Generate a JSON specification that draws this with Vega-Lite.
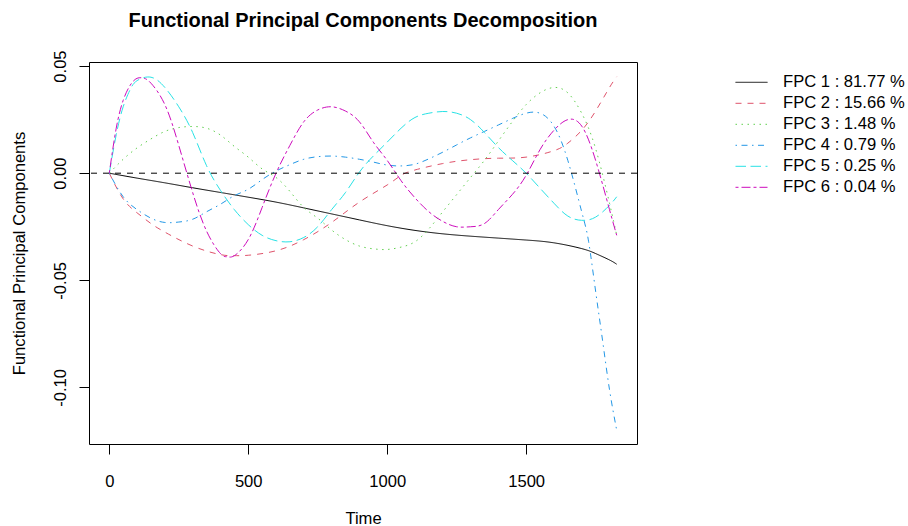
{
  "$schema": "https://vega.github.io/schema/vega-lite/v6.json",
  "autosize": {"type": "none"},
  "width": 548,
  "height": 382,
  "padding": {"left": 89, "top": 62, "right": 271, "bottom": 82},
  "background": "white",
  "title": {"text": "Functional Principal Components Decomposition", "font": "Liberation Sans", "fontSize": 20, "fontWeight": "bold", "color": "black", "anchor": "middle", "baseline": "alphabetic", "offset": 3},
  "config": {
    "view": {"stroke": "black", "strokeWidth": 1},
    "axis": {"labelFont": "Liberation Sans", "titleFont": "Liberation Sans", "labelFontSize": 16.6, "titleFontSize": 16.6, "labelColor": "black", "titleColor": "black", "titleFontWeight": "normal", "tickColor": "black", "tickSize": 10, "tickWidth": 1, "domain": false, "grid": false}
  },
  "datasets": {
    "fpc": [
      {"t": 0, "v": 0, "s": "FPC 1 : 81.77 %"},
      {"t": 100, "v": -0.0023, "s": "FPC 1 : 81.77 %"},
      {"t": 200, "v": -0.0045, "s": "FPC 1 : 81.77 %"},
      {"t": 300, "v": -0.0068, "s": "FPC 1 : 81.77 %"},
      {"t": 400, "v": -0.009, "s": "FPC 1 : 81.77 %"},
      {"t": 500, "v": -0.0112, "s": "FPC 1 : 81.77 %"},
      {"t": 600, "v": -0.0135, "s": "FPC 1 : 81.77 %"},
      {"t": 700, "v": -0.0162, "s": "FPC 1 : 81.77 %"},
      {"t": 800, "v": -0.019, "s": "FPC 1 : 81.77 %"},
      {"t": 900, "v": -0.0218, "s": "FPC 1 : 81.77 %"},
      {"t": 1000, "v": -0.0245, "s": "FPC 1 : 81.77 %"},
      {"t": 1100, "v": -0.0267, "s": "FPC 1 : 81.77 %"},
      {"t": 1200, "v": -0.0283, "s": "FPC 1 : 81.77 %"},
      {"t": 1300, "v": -0.0294, "s": "FPC 1 : 81.77 %"},
      {"t": 1400, "v": -0.0303, "s": "FPC 1 : 81.77 %"},
      {"t": 1500, "v": -0.0312, "s": "FPC 1 : 81.77 %"},
      {"t": 1600, "v": -0.0325, "s": "FPC 1 : 81.77 %"},
      {"t": 1700, "v": -0.0352, "s": "FPC 1 : 81.77 %"},
      {"t": 1750, "v": -0.0375, "s": "FPC 1 : 81.77 %"},
      {"t": 1800, "v": -0.0405, "s": "FPC 1 : 81.77 %"},
      {"t": 1826, "v": -0.0425, "s": "FPC 1 : 81.77 %"},

      {"t": 0, "v": 0, "s": "FPC 2 : 15.66 %"},
      {"t": 50, "v": -0.012, "s": "FPC 2 : 15.66 %"},
      {"t": 100, "v": -0.0185, "s": "FPC 2 : 15.66 %"},
      {"t": 150, "v": -0.0235, "s": "FPC 2 : 15.66 %"},
      {"t": 200, "v": -0.0275, "s": "FPC 2 : 15.66 %"},
      {"t": 300, "v": -0.034, "s": "FPC 2 : 15.66 %"},
      {"t": 400, "v": -0.038, "s": "FPC 2 : 15.66 %"},
      {"t": 450, "v": -0.0385, "s": "FPC 2 : 15.66 %"},
      {"t": 500, "v": -0.0383, "s": "FPC 2 : 15.66 %"},
      {"t": 600, "v": -0.0362, "s": "FPC 2 : 15.66 %"},
      {"t": 700, "v": -0.031, "s": "FPC 2 : 15.66 %"},
      {"t": 800, "v": -0.023, "s": "FPC 2 : 15.66 %"},
      {"t": 900, "v": -0.0135, "s": "FPC 2 : 15.66 %"},
      {"t": 1000, "v": -0.0055, "s": "FPC 2 : 15.66 %"},
      {"t": 1050, "v": -0.001, "s": "FPC 2 : 15.66 %"},
      {"t": 1100, "v": 0.0015, "s": "FPC 2 : 15.66 %"},
      {"t": 1200, "v": 0.0045, "s": "FPC 2 : 15.66 %"},
      {"t": 1300, "v": 0.0063, "s": "FPC 2 : 15.66 %"},
      {"t": 1400, "v": 0.007, "s": "FPC 2 : 15.66 %"},
      {"t": 1500, "v": 0.0075, "s": "FPC 2 : 15.66 %"},
      {"t": 1600, "v": 0.0105, "s": "FPC 2 : 15.66 %"},
      {"t": 1650, "v": 0.014, "s": "FPC 2 : 15.66 %"},
      {"t": 1700, "v": 0.02, "s": "FPC 2 : 15.66 %"},
      {"t": 1750, "v": 0.029, "s": "FPC 2 : 15.66 %"},
      {"t": 1800, "v": 0.04, "s": "FPC 2 : 15.66 %"},
      {"t": 1826, "v": 0.045, "s": "FPC 2 : 15.66 %"},

      {"t": 0, "v": 0, "s": "FPC 3 : 1.48 %"},
      {"t": 50, "v": 0.0065, "s": "FPC 3 : 1.48 %"},
      {"t": 100, "v": 0.0118, "s": "FPC 3 : 1.48 %"},
      {"t": 150, "v": 0.016, "s": "FPC 3 : 1.48 %"},
      {"t": 200, "v": 0.0195, "s": "FPC 3 : 1.48 %"},
      {"t": 250, "v": 0.0213, "s": "FPC 3 : 1.48 %"},
      {"t": 300, "v": 0.0218, "s": "FPC 3 : 1.48 %"},
      {"t": 350, "v": 0.021, "s": "FPC 3 : 1.48 %"},
      {"t": 400, "v": 0.0178, "s": "FPC 3 : 1.48 %"},
      {"t": 450, "v": 0.0125, "s": "FPC 3 : 1.48 %"},
      {"t": 500, "v": 0.0075, "s": "FPC 3 : 1.48 %"},
      {"t": 550, "v": 0.002, "s": "FPC 3 : 1.48 %"},
      {"t": 600, "v": -0.002, "s": "FPC 3 : 1.48 %"},
      {"t": 650, "v": -0.0085, "s": "FPC 3 : 1.48 %"},
      {"t": 700, "v": -0.016, "s": "FPC 3 : 1.48 %"},
      {"t": 750, "v": -0.021, "s": "FPC 3 : 1.48 %"},
      {"t": 800, "v": -0.0265, "s": "FPC 3 : 1.48 %"},
      {"t": 850, "v": -0.031, "s": "FPC 3 : 1.48 %"},
      {"t": 900, "v": -0.034, "s": "FPC 3 : 1.48 %"},
      {"t": 950, "v": -0.0353, "s": "FPC 3 : 1.48 %"},
      {"t": 1000, "v": -0.0356, "s": "FPC 3 : 1.48 %"},
      {"t": 1050, "v": -0.0345, "s": "FPC 3 : 1.48 %"},
      {"t": 1100, "v": -0.032, "s": "FPC 3 : 1.48 %"},
      {"t": 1150, "v": -0.026, "s": "FPC 3 : 1.48 %"},
      {"t": 1200, "v": -0.018, "s": "FPC 3 : 1.48 %"},
      {"t": 1250, "v": -0.01, "s": "FPC 3 : 1.48 %"},
      {"t": 1300, "v": -0.002, "s": "FPC 3 : 1.48 %"},
      {"t": 1350, "v": 0.006, "s": "FPC 3 : 1.48 %"},
      {"t": 1400, "v": 0.015, "s": "FPC 3 : 1.48 %"},
      {"t": 1450, "v": 0.024, "s": "FPC 3 : 1.48 %"},
      {"t": 1500, "v": 0.032, "s": "FPC 3 : 1.48 %"},
      {"t": 1550, "v": 0.0375, "s": "FPC 3 : 1.48 %"},
      {"t": 1600, "v": 0.04, "s": "FPC 3 : 1.48 %"},
      {"t": 1650, "v": 0.0375, "s": "FPC 3 : 1.48 %"},
      {"t": 1700, "v": 0.028, "s": "FPC 3 : 1.48 %"},
      {"t": 1750, "v": 0.0115, "s": "FPC 3 : 1.48 %"},
      {"t": 1800, "v": -0.014, "s": "FPC 3 : 1.48 %"},
      {"t": 1826, "v": -0.029, "s": "FPC 3 : 1.48 %"},

      {"t": 0, "v": 0, "s": "FPC 4 : 0.79 %"},
      {"t": 50, "v": -0.011, "s": "FPC 4 : 0.79 %"},
      {"t": 100, "v": -0.017, "s": "FPC 4 : 0.79 %"},
      {"t": 150, "v": -0.021, "s": "FPC 4 : 0.79 %"},
      {"t": 200, "v": -0.023, "s": "FPC 4 : 0.79 %"},
      {"t": 250, "v": -0.0228, "s": "FPC 4 : 0.79 %"},
      {"t": 300, "v": -0.0215, "s": "FPC 4 : 0.79 %"},
      {"t": 350, "v": -0.018, "s": "FPC 4 : 0.79 %"},
      {"t": 400, "v": -0.0145, "s": "FPC 4 : 0.79 %"},
      {"t": 450, "v": -0.0105, "s": "FPC 4 : 0.79 %"},
      {"t": 500, "v": -0.0075, "s": "FPC 4 : 0.79 %"},
      {"t": 550, "v": -0.003, "s": "FPC 4 : 0.79 %"},
      {"t": 600, "v": 0.001, "s": "FPC 4 : 0.79 %"},
      {"t": 650, "v": 0.004, "s": "FPC 4 : 0.79 %"},
      {"t": 700, "v": 0.0065, "s": "FPC 4 : 0.79 %"},
      {"t": 750, "v": 0.0077, "s": "FPC 4 : 0.79 %"},
      {"t": 800, "v": 0.008, "s": "FPC 4 : 0.79 %"},
      {"t": 850, "v": 0.0075, "s": "FPC 4 : 0.79 %"},
      {"t": 900, "v": 0.0065, "s": "FPC 4 : 0.79 %"},
      {"t": 950, "v": 0.0052, "s": "FPC 4 : 0.79 %"},
      {"t": 1000, "v": 0.0038, "s": "FPC 4 : 0.79 %"},
      {"t": 1050, "v": 0.0034, "s": "FPC 4 : 0.79 %"},
      {"t": 1100, "v": 0.0042, "s": "FPC 4 : 0.79 %"},
      {"t": 1150, "v": 0.0067, "s": "FPC 4 : 0.79 %"},
      {"t": 1200, "v": 0.0098, "s": "FPC 4 : 0.79 %"},
      {"t": 1250, "v": 0.0132, "s": "FPC 4 : 0.79 %"},
      {"t": 1300, "v": 0.0165, "s": "FPC 4 : 0.79 %"},
      {"t": 1350, "v": 0.0195, "s": "FPC 4 : 0.79 %"},
      {"t": 1400, "v": 0.0225, "s": "FPC 4 : 0.79 %"},
      {"t": 1450, "v": 0.0255, "s": "FPC 4 : 0.79 %"},
      {"t": 1500, "v": 0.028, "s": "FPC 4 : 0.79 %"},
      {"t": 1550, "v": 0.028, "s": "FPC 4 : 0.79 %"},
      {"t": 1600, "v": 0.022, "s": "FPC 4 : 0.79 %"},
      {"t": 1650, "v": 0.006, "s": "FPC 4 : 0.79 %"},
      {"t": 1700, "v": -0.018, "s": "FPC 4 : 0.79 %"},
      {"t": 1725, "v": -0.032, "s": "FPC 4 : 0.79 %"},
      {"t": 1750, "v": -0.055, "s": "FPC 4 : 0.79 %"},
      {"t": 1775, "v": -0.078, "s": "FPC 4 : 0.79 %"},
      {"t": 1800, "v": -0.101, "s": "FPC 4 : 0.79 %"},
      {"t": 1826, "v": -0.12, "s": "FPC 4 : 0.79 %"},

      {"t": 0, "v": 0, "s": "FPC 5 : 0.25 %"},
      {"t": 25, "v": 0.018, "s": "FPC 5 : 0.25 %"},
      {"t": 50, "v": 0.031, "s": "FPC 5 : 0.25 %"},
      {"t": 75, "v": 0.039, "s": "FPC 5 : 0.25 %"},
      {"t": 100, "v": 0.0432, "s": "FPC 5 : 0.25 %"},
      {"t": 150, "v": 0.0448, "s": "FPC 5 : 0.25 %"},
      {"t": 200, "v": 0.04, "s": "FPC 5 : 0.25 %"},
      {"t": 250, "v": 0.031, "s": "FPC 5 : 0.25 %"},
      {"t": 300, "v": 0.019, "s": "FPC 5 : 0.25 %"},
      {"t": 350, "v": 0.0035, "s": "FPC 5 : 0.25 %"},
      {"t": 400, "v": -0.008, "s": "FPC 5 : 0.25 %"},
      {"t": 450, "v": -0.017, "s": "FPC 5 : 0.25 %"},
      {"t": 500, "v": -0.024, "s": "FPC 5 : 0.25 %"},
      {"t": 550, "v": -0.029, "s": "FPC 5 : 0.25 %"},
      {"t": 600, "v": -0.0315, "s": "FPC 5 : 0.25 %"},
      {"t": 650, "v": -0.032, "s": "FPC 5 : 0.25 %"},
      {"t": 700, "v": -0.03, "s": "FPC 5 : 0.25 %"},
      {"t": 750, "v": -0.025, "s": "FPC 5 : 0.25 %"},
      {"t": 800, "v": -0.017, "s": "FPC 5 : 0.25 %"},
      {"t": 850, "v": -0.009, "s": "FPC 5 : 0.25 %"},
      {"t": 900, "v": 0.0005, "s": "FPC 5 : 0.25 %"},
      {"t": 950, "v": 0.008, "s": "FPC 5 : 0.25 %"},
      {"t": 1000, "v": 0.0145, "s": "FPC 5 : 0.25 %"},
      {"t": 1050, "v": 0.021, "s": "FPC 5 : 0.25 %"},
      {"t": 1100, "v": 0.026, "s": "FPC 5 : 0.25 %"},
      {"t": 1150, "v": 0.028, "s": "FPC 5 : 0.25 %"},
      {"t": 1200, "v": 0.0288, "s": "FPC 5 : 0.25 %"},
      {"t": 1250, "v": 0.028, "s": "FPC 5 : 0.25 %"},
      {"t": 1300, "v": 0.025, "s": "FPC 5 : 0.25 %"},
      {"t": 1350, "v": 0.019, "s": "FPC 5 : 0.25 %"},
      {"t": 1400, "v": 0.012, "s": "FPC 5 : 0.25 %"},
      {"t": 1450, "v": 0.006, "s": "FPC 5 : 0.25 %"},
      {"t": 1500, "v": 0.0, "s": "FPC 5 : 0.25 %"},
      {"t": 1550, "v": -0.007, "s": "FPC 5 : 0.25 %"},
      {"t": 1600, "v": -0.014, "s": "FPC 5 : 0.25 %"},
      {"t": 1650, "v": -0.02, "s": "FPC 5 : 0.25 %"},
      {"t": 1700, "v": -0.022, "s": "FPC 5 : 0.25 %"},
      {"t": 1750, "v": -0.0205, "s": "FPC 5 : 0.25 %"},
      {"t": 1800, "v": -0.015, "s": "FPC 5 : 0.25 %"},
      {"t": 1826, "v": -0.011, "s": "FPC 5 : 0.25 %"},

      {"t": 0, "v": 0, "s": "FPC 6 : 0.04 %"},
      {"t": 25, "v": 0.021, "s": "FPC 6 : 0.04 %"},
      {"t": 50, "v": 0.034, "s": "FPC 6 : 0.04 %"},
      {"t": 75, "v": 0.041, "s": "FPC 6 : 0.04 %"},
      {"t": 100, "v": 0.0443, "s": "FPC 6 : 0.04 %"},
      {"t": 125, "v": 0.0443, "s": "FPC 6 : 0.04 %"},
      {"t": 150, "v": 0.042, "s": "FPC 6 : 0.04 %"},
      {"t": 200, "v": 0.032, "s": "FPC 6 : 0.04 %"},
      {"t": 250, "v": 0.013, "s": "FPC 6 : 0.04 %"},
      {"t": 300, "v": -0.009, "s": "FPC 6 : 0.04 %"},
      {"t": 350, "v": -0.027, "s": "FPC 6 : 0.04 %"},
      {"t": 400, "v": -0.0375, "s": "FPC 6 : 0.04 %"},
      {"t": 425, "v": -0.039, "s": "FPC 6 : 0.04 %"},
      {"t": 450, "v": -0.0385, "s": "FPC 6 : 0.04 %"},
      {"t": 500, "v": -0.031, "s": "FPC 6 : 0.04 %"},
      {"t": 550, "v": -0.016, "s": "FPC 6 : 0.04 %"},
      {"t": 600, "v": 0.0, "s": "FPC 6 : 0.04 %"},
      {"t": 650, "v": 0.013, "s": "FPC 6 : 0.04 %"},
      {"t": 700, "v": 0.024, "s": "FPC 6 : 0.04 %"},
      {"t": 750, "v": 0.0295, "s": "FPC 6 : 0.04 %"},
      {"t": 800, "v": 0.031, "s": "FPC 6 : 0.04 %"},
      {"t": 850, "v": 0.029, "s": "FPC 6 : 0.04 %"},
      {"t": 900, "v": 0.024, "s": "FPC 6 : 0.04 %"},
      {"t": 950, "v": 0.0145, "s": "FPC 6 : 0.04 %"},
      {"t": 1000, "v": 0.006, "s": "FPC 6 : 0.04 %"},
      {"t": 1050, "v": -0.0035, "s": "FPC 6 : 0.04 %"},
      {"t": 1100, "v": -0.0115, "s": "FPC 6 : 0.04 %"},
      {"t": 1150, "v": -0.018, "s": "FPC 6 : 0.04 %"},
      {"t": 1200, "v": -0.0225, "s": "FPC 6 : 0.04 %"},
      {"t": 1250, "v": -0.025, "s": "FPC 6 : 0.04 %"},
      {"t": 1300, "v": -0.025, "s": "FPC 6 : 0.04 %"},
      {"t": 1350, "v": -0.0235, "s": "FPC 6 : 0.04 %"},
      {"t": 1400, "v": -0.017, "s": "FPC 6 : 0.04 %"},
      {"t": 1450, "v": -0.01, "s": "FPC 6 : 0.04 %"},
      {"t": 1500, "v": -0.001, "s": "FPC 6 : 0.04 %"},
      {"t": 1550, "v": 0.011, "s": "FPC 6 : 0.04 %"},
      {"t": 1600, "v": 0.02, "s": "FPC 6 : 0.04 %"},
      {"t": 1650, "v": 0.025, "s": "FPC 6 : 0.04 %"},
      {"t": 1700, "v": 0.022, "s": "FPC 6 : 0.04 %"},
      {"t": 1750, "v": 0.006, "s": "FPC 6 : 0.04 %"},
      {"t": 1800, "v": -0.017, "s": "FPC 6 : 0.04 %"},
      {"t": 1826, "v": -0.029, "s": "FPC 6 : 0.04 %"}
    ]
  },
  "layer": [
    {
      "data": {"name": "fpc"},
      "mark": {"type": "line", "strokeWidth": 1, "interpolate": "natural"},
      "encoding": {
        "x": {"field": "t", "type": "quantitative", "scale": {"domain": [-73, 1899], "nice": false, "zero": false},
              "axis": {"title": "Time", "values": [0, 500, 1000, 1500], "format": "d", "labelBaseline": "alphabetic", "labelPadding": 32, "labelFlush": false, "titleBaseline": "alphabetic", "titleX": 274, "titleY": 79, "titleAnchor": "middle"}},
        "y": {"field": "v", "type": "quantitative", "scale": {"domain": [-0.1264, 0.0519], "nice": false, "zero": false},
              "axis": {"title": "Functional Principal Components", "values": [-0.1, -0.05, 0, 0.05], "labelExpr": "datum.value < 0 ? '-' + format(-datum.value, '.2f') : format(datum.value, '.2f')", "labelAngle": -90, "labelAlign": "center", "labelBaseline": "alphabetic", "labelPadding": 14, "labelFlush": false, "titleAngle": -90, "titleAlign": "center", "titleBaseline": "alphabetic", "titleX": -64.5, "titleY": 191}},
        "color": {"field": "s", "type": "nominal",
                  "scale": {"domain": ["FPC 1 : 81.77 %", "FPC 2 : 15.66 %", "FPC 3 : 1.48 %", "FPC 4 : 0.79 %", "FPC 5 : 0.25 %", "FPC 6 : 0.04 %"],
                            "range": ["#000000", "#DF536B", "#61D04F", "#2297E6", "#28E2E5", "#CD0BBC"]},
                  "legend": {"title": null, "orient": "none", "legendX": 646, "legendY": 10, "symbolType": "stroke", "symbolSize": 1024, "symbolStrokeWidth": 1, "labelFont": "Liberation Sans", "labelFontSize": 16.6, "labelColor": "black", "labelOffset": 15, "clipHeight": 20.6, "rowPadding": 0, "padding": 0, "labelLimit": 300}},
        "strokeDash": {"field": "s", "type": "nominal",
                       "scale": {"domain": ["FPC 1 : 81.77 %", "FPC 2 : 15.66 %", "FPC 3 : 1.48 %", "FPC 4 : 0.79 %", "FPC 5 : 0.25 %", "FPC 6 : 0.04 %"],
                                 "range": [[1, 0], [6, 6], [1.5, 4.5], [1.5, 4.5, 6, 4.5], [10.5, 4.5], [3, 3, 9, 3]]},
                       "legend": {"title": null, "orient": "none", "legendX": 646, "legendY": 10, "symbolType": "stroke", "symbolSize": 1024, "symbolStrokeWidth": 1, "labelFont": "Liberation Sans", "labelFontSize": 16.6, "labelColor": "black", "labelOffset": 15, "clipHeight": 20.6, "rowPadding": 0, "padding": 0, "labelLimit": 300}}
      }
    },
    {
      "data": {"values": [{"h": 0}]},
      "mark": {"type": "rule", "color": "black", "strokeWidth": 1, "strokeDash": [6, 6]},
      "encoding": {"y": {"field": "h", "type": "quantitative"}}
    }
  ]
}
